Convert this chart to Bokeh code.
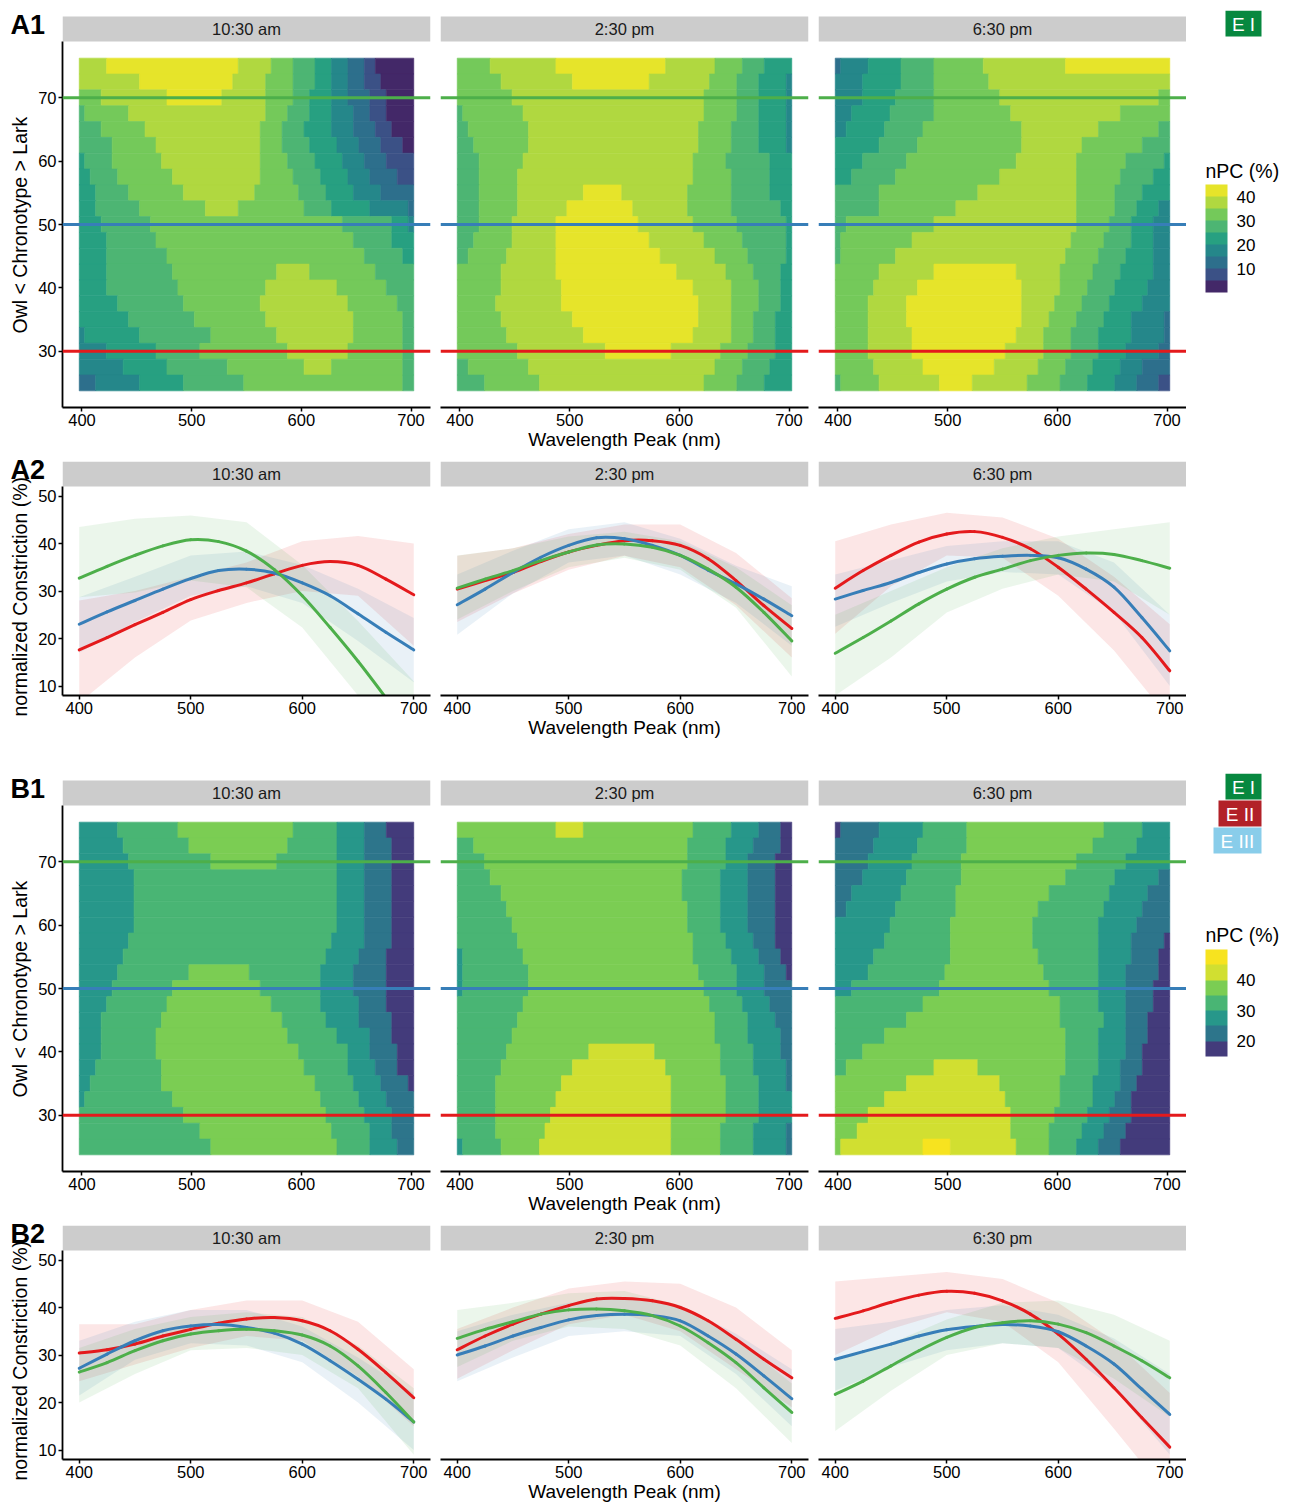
from bokeh.plotting import figure
from bokeh.models import (Range1d, FixedTicker, Span, ColumnDataSource,
                          LinearColorMapper, ColorBar, Title)
from bokeh.transform import transform
from bokeh.layouts import column, row
from bokeh.embed import file_html
from bokeh.resources import INLINE
from bokeh.core.properties import value

FONT = "Liberation Sans"

# ---------------------------------------------------------------- data
SESSIONS = ["10:30 am", "2:30 pm", "6:30 pm"]
WAVELENGTH_TICKS = [400, 500, 600, 700]
CHRONO_TICKS = [30, 40, 50, 60, 70]
CONSTRICTION_TICKS = [10, 20, 30, 40, 50]

# chronotype reference levels (owl / intermediate / lark) and their colours
CHRONO_LEVELS = [30, 50, 70]
CHRONO_COLORS = ["#E41A1C", "#377EB8", "#4DAF4A"]

# heat-map grid: wavelength cells every 5 nm from 400 to 700,
# chronotype rows every 2.5 from 75 (top) down to 25
CHRONO_ROWS = [75, 72.5, 70, 67.5, 65, 62.5, 60, 57.5, 55, 52.5, 50,
               47.5, 45, 42.5, 40, 37.5, 35, 32.5, 30, 27.5, 25]

# each token: "<lower edge of nPC bin>:<last wavelength of the run>"
A1_1030 = [
    "35:420 40:540 35:570 30:590 25:610 20:625 15:640 10:655 5:665 0:700",
    "35:450 40:535 35:565 30:590 25:610 20:625 15:640 10:655 5:670 0:700",
    "30:415 35:475 40:525 35:565 30:590 25:605 20:625 15:640 10:660 5:675 0:700",
    "25:400 30:440 35:565 30:585 25:605 20:625 15:645 10:660 5:675 0:700",
    "25:415 30:455 35:560 30:580 25:600 20:625 15:645 10:665 5:680 0:700",
    "25:425 30:465 35:560 30:580 25:605 20:630 15:650 10:670 5:690 0:700",
    "20:400 25:425 30:470 35:560 30:585 25:610 20:635 15:655 10:675 5:700",
    "20:405 25:430 30:480 35:560 30:590 25:615 20:640 15:660 10:685 5:700",
    "20:410 25:440 30:490 35:555 30:595 25:620 20:645 15:670 10:700",
    "20:410 25:450 30:510 35:540 30:600 25:625 20:660 15:695 10:700",
    "20:415 25:460 30:635 25:680 20:695 15:700",
    "20:420 25:465 30:645 25:680 20:700",
    "20:420 25:475 30:655 25:690 20:700",
    "20:420 25:480 30:575 35:605 30:665 25:700",
    "20:420 25:485 30:565 35:630 30:675 25:700",
    "20:430 25:490 30:560 35:640 30:685 25:700",
    "20:440 25:500 30:565 35:645 30:690 25:700",
    "15:400 20:450 25:515 30:575 35:645 30:690 25:700",
    "15:420 20:465 25:505 30:585 35:640 30:690 25:700",
    "15:435 20:475 25:530 30:600 35:625 30:690 25:700",
    "10:410 15:450 20:490 25:545 30:690 25:700",
]
A1_1430 = [
    "30:425 35:485 40:585 35:630 30:655 25:675 20:700",
    "30:435 35:500 40:570 35:625 30:650 25:670 20:695 15:700",
    "30:445 35:620 30:650 25:670 20:695 15:700",
    "25:400 30:455 35:620 30:650 25:670 20:695 15:700",
    "25:405 30:460 35:615 30:645 25:670 20:695 15:700",
    "25:410 30:460 35:615 30:645 25:670 20:695 15:700",
    "25:415 30:455 35:610 30:640 25:680 20:700",
    "25:415 30:450 35:610 30:645 25:680 20:700",
    "25:415 30:450 35:510 40:545 35:605 30:645 25:680 20:700",
    "25:415 30:450 35:495 40:555 35:605 30:645 25:690 20:700",
    "25:415 30:445 35:485 40:560 35:610 30:650 25:695 20:700",
    "25:410 30:445 35:485 40:570 35:620 30:655 25:695 20:700",
    "25:405 30:440 35:485 40:580 35:630 30:660 25:695 20:700",
    "30:435 35:485 40:595 35:640 30:665 25:690 20:700",
    "30:435 35:490 40:610 35:645 30:670 25:690 20:700",
    "30:430 35:490 40:615 35:645 30:670 25:690 20:700",
    "30:435 35:500 40:615 35:645 30:665 25:685 20:700",
    "30:440 35:510 40:610 35:645 30:665 25:685 20:700",
    "30:450 35:530 40:590 35:635 30:660 25:685 20:700",
    "25:405 30:460 35:630 30:655 25:680 20:700",
    "25:420 30:470 35:620 30:650 25:675 20:700",
]
A1_1830 = [
    "10:400 15:425 20:455 25:485 30:530 35:605 40:700",
    "15:420 20:455 25:485 30:535 35:700",
    "15:420 20:450 25:485 30:545 35:690 30:700",
    "15:410 20:445 25:485 30:555 35:655 30:700",
    "15:405 20:440 25:475 30:565 35:635 30:690 25:700",
    "20:435 25:470 30:565 35:620 30:675 25:700",
    "20:420 25:460 30:560 35:615 30:660 25:695 20:700",
    "20:410 25:450 30:545 35:615 30:655 25:685 20:700",
    "25:435 30:525 35:615 30:650 25:675 20:700",
    "25:435 30:505 35:615 30:650 25:670 20:690 15:700",
    "25:405 30:485 35:615 30:645 25:665 20:685 15:700",
    "25:400 30:465 35:610 30:640 25:665 20:685 15:700",
    "25:400 30:450 35:605 30:635 25:660 20:685 15:700",
    "30:435 35:485 40:560 35:600 30:630 25:655 20:685 15:700",
    "30:430 35:470 40:565 35:600 30:625 25:650 20:680 15:700",
    "30:425 35:460 40:565 35:595 30:620 25:645 20:675 15:700",
    "30:425 35:460 40:565 35:590 30:615 25:640 20:665 15:695 10:700",
    "30:425 35:465 40:560 35:585 30:610 25:635 20:665 15:695 10:700",
    "30:425 35:465 40:550 35:585 30:610 25:635 20:660 15:690 10:700",
    "30:430 35:475 40:540 35:580 30:605 25:630 20:655 15:675 10:700",
    "25:400 30:435 35:490 40:520 35:570 30:600 25:625 20:650 15:670 10:690 5:700",
]
B1_1030 = [
    "25:430 30:485 35:590 30:630 25:655 20:675 15:700",
    "25:435 30:495 35:585 30:630 25:655 20:680 15:700",
    "25:440 30:515 35:575 30:630 25:655 20:680 15:700",
    "25:445 30:630 25:655 20:680 15:700",
    "25:445 30:630 25:655 20:680 15:700",
    "25:445 30:630 25:655 20:680 15:700",
    "25:445 30:630 25:655 20:680 15:700",
    "25:440 30:625 25:655 20:680 15:700",
    "25:435 30:620 25:650 20:675 15:700",
    "25:430 30:495 35:550 30:615 25:645 20:675 15:700",
    "25:425 30:480 35:560 30:615 25:645 20:675 15:700",
    "25:420 30:475 35:570 30:615 25:650 20:675 15:700",
    "25:415 30:470 35:580 30:620 25:650 20:680 15:700",
    "25:415 30:465 35:585 30:630 25:660 20:680 15:700",
    "25:415 30:465 35:595 30:640 25:660 20:685 15:700",
    "25:410 30:470 35:600 30:640 25:665 20:685 15:700",
    "25:405 30:470 35:610 30:645 25:670 20:695 15:700",
    "25:400 30:480 35:615 30:650 25:675 20:700",
    "30:490 35:620 30:655 25:680 20:700",
    "30:505 35:625 30:660 25:680 20:700",
    "30:515 35:630 30:660 25:685 20:700",
]
B1_1430 = [
    "35:485 40:510 35:610 30:645 25:670 20:690 15:700",
    "30:410 35:605 30:640 25:665 20:690 15:700",
    "30:420 35:605 30:640 25:660 20:685 15:700",
    "30:425 35:600 30:635 25:660 20:685 15:700",
    "30:435 35:600 30:635 25:660 20:685 15:700",
    "30:440 35:605 30:635 25:660 20:685 15:700",
    "30:445 35:605 30:635 25:660 20:685 15:700",
    "30:450 35:610 30:640 25:665 20:685 15:700",
    "25:400 30:455 35:610 30:645 25:670 20:690 15:700",
    "25:400 30:460 35:615 30:650 25:675 20:695 15:700",
    "25:400 30:460 35:620 30:650 25:675 20:700",
    "30:455 35:625 30:655 25:680 20:700",
    "30:450 35:630 30:660 25:685 20:700",
    "30:445 35:630 30:660 25:690 20:700",
    "30:440 35:515 40:575 35:635 30:665 25:690 20:700",
    "30:435 35:500 40:585 35:635 30:665 25:695 20:700",
    "30:430 35:490 40:590 35:640 30:670 25:695 20:700",
    "30:430 35:485 40:590 35:640 30:670 25:700",
    "30:430 35:480 40:590 35:640 30:670 25:700",
    "30:430 35:475 40:590 35:635 30:665 25:695 20:700",
    "25:400 30:435 35:470 40:590 35:635 30:665 25:695 20:700",
]
B1_1830 = [
    "15:400 20:435 25:475 30:515 35:640 30:675 25:700",
    "20:430 25:470 30:515 35:630 30:670 25:700",
    "20:425 25:465 30:510 35:615 30:660 25:700",
    "20:420 25:460 30:510 35:605 30:650 25:690 20:700",
    "20:410 25:455 30:505 35:590 30:645 25:680 20:700",
    "20:405 25:450 30:505 35:580 30:640 25:675 20:700",
    "25:445 30:500 35:575 30:635 25:670 20:700",
    "25:440 30:500 35:575 30:635 25:665 20:695 15:700",
    "25:430 30:500 35:580 30:635 25:665 20:690 15:700",
    "25:425 30:495 35:585 30:635 25:660 20:690 15:700",
    "25:410 30:490 35:590 30:635 25:660 20:685 15:700",
    "30:475 35:600 30:635 25:660 20:685 15:700",
    "30:460 35:600 30:640 25:660 20:680 15:700",
    "30:440 35:605 30:635 25:660 20:680 15:700",
    "30:420 35:605 30:635 25:660 20:675 15:700",
    "30:405 35:485 40:525 35:605 30:635 25:655 20:675 15:700",
    "35:460 40:545 35:600 30:630 25:655 20:670 15:700",
    "35:440 40:550 35:600 30:630 25:650 20:665 15:700",
    "35:425 40:555 35:595 30:625 25:645 20:665 15:700",
    "35:415 40:555 35:590 30:620 25:640 20:660 15:700",
    "35:400 40:475 45:500 40:560 35:590 30:615 25:635 20:655 15:700",
]

# binned nPC colour scales (5 % bins)
NPC_PALETTE_A = ["#432868", "#3B5186", "#2D6F8C", "#25878A", "#27A081",
                 "#4DB573", "#74C95A", "#B0D840", "#E6E42A"]       # 0 ... 45
NPC_TICKS_A = [10, 20, 30, 40]
NPC_PALETTE_B = ["#433B7B", "#2D758B", "#27978A", "#49B574", "#7BCD53",
                 "#D1DF31", "#F7E31F"]                              # 15 ... 50
NPC_TICKS_B = [20, 30, 40]

# fitted constriction curves for chronotype 30 / 50 / 70
CURVE_NM = [400, 425, 450, 475, 500, 525, 550, 575, 600, 625, 650, 675, 700]
BAND_NM = [400, 450, 500, 550, 600, 650, 700]

A2_1030_CH30 = [17.6, 20.2, 22.9, 25.5, 28.2, 30.1, 31.7, 33.6, 35.4, 36.2, 35.4, 32.5, 29.2]
A2_1030_CH50 = [23.0, 25.6, 28.0, 30.4, 32.6, 34.3, 34.6, 33.8, 31.7, 29.0, 25.2, 21.3, 17.6]
A2_1030_CH70 = [32.7, 35.2, 37.5, 39.5, 40.8, 40.4, 38.4, 34.5, 29.0, 22.3, 15.2, 7.5, -0.5]
A2_1030_CH30_LO = [6.5, 16.0, 23.8, 27.5, 30.0, 29.0, 18.5]
A2_1030_CH30_HI = [28.0, 30.0, 33.0, 36.0, 40.5, 41.6, 40.0]
A2_1030_CH50_LO = [17.0, 23.5, 29.0, 31.0, 27.5, 19.5, 10.8]
A2_1030_CH50_HI = [28.7, 33.0, 37.5, 38.3, 35.5, 30.5, 24.3]
A2_1030_CH70_LO = [28.7, 29.7, 32.2, 30.8, 22.3, 8.0, -8.0]
A2_1030_CH70_HI = [43.5, 45.2, 45.9, 44.5, 35.5, 23.7, 11.0]

A2_1430_CH30 = [30.4, 32.2, 33.9, 36.2, 38.2, 39.6, 40.6, 40.6, 39.6, 36.8, 32.2, 26.9, 22.1]
A2_1430_CH50 = [27.1, 30.4, 33.9, 37.1, 39.6, 41.2, 41.0, 39.6, 37.5, 34.4, 31.5, 28.3, 24.8]
A2_1430_CH70 = [30.6, 32.5, 34.3, 36.4, 38.2, 39.7, 39.9, 39.2, 37.5, 34.6, 30.8, 25.5, 19.5]
A2_1430_CH30_LO = [23.5, 29.5, 34.5, 37.4, 35.0, 27.0, 16.0]
A2_1430_CH30_HI = [37.4, 39.0, 42.0, 44.0, 44.0, 38.0, 28.5]
A2_1430_CH50_LO = [20.8, 29.5, 36.0, 37.5, 33.5, 27.5, 18.5]
A2_1430_CH50_HI = [33.5, 38.5, 43.0, 44.5, 41.0, 35.3, 31.0]
A2_1430_CH70_LO = [24.0, 30.0, 35.0, 37.0, 34.5, 26.5, 12.0]
A2_1430_CH70_HI = [37.5, 39.0, 41.5, 42.5, 40.5, 35.0, 27.0]

A2_1830_CH30 = [30.6, 34.3, 37.5, 40.3, 42.0, 42.5, 41.3, 38.9, 35.0, 30.4, 25.5, 20.2, 13.2]
A2_1830_CH50 = [28.3, 30.1, 31.8, 33.9, 35.7, 36.8, 37.3, 37.5, 37.0, 34.6, 30.8, 24.4, 17.4]
A2_1830_CH70 = [16.9, 20.2, 23.7, 27.3, 30.4, 32.9, 34.6, 36.4, 37.5, 38.0, 37.7, 36.4, 34.8]
A2_1830_CH30_LO = [21.0, 31.0, 37.5, 37.0, 29.0, 17.5, 3.0]
A2_1830_CH30_HI = [40.5, 44.0, 46.5, 45.5, 41.0, 33.0, 23.0]
A2_1830_CH50_LO = [22.5, 27.5, 32.0, 34.0, 33.5, 25.5, 10.0]
A2_1830_CH50_HI = [33.5, 36.5, 39.5, 40.5, 40.5, 36.0, 25.0]
A2_1830_CH70_LO = [8.0, 16.0, 25.5, 30.5, 33.5, 32.0, 25.0]
A2_1830_CH70_HI = [25.0, 30.0, 35.0, 39.0, 41.5, 43.0, 44.5]

B2_1030_CH30 = [30.4, 31.1, 32.3, 34.0, 35.4, 36.7, 37.6, 37.9, 37.2, 35.1, 31.2, 26.3, 21.0]
B2_1030_CH50 = [27.2, 30.2, 33.0, 35.1, 36.1, 36.4, 35.8, 34.6, 32.3, 28.8, 24.9, 20.7, 15.9]
B2_1030_CH70 = [26.4, 28.4, 30.9, 33.0, 34.4, 35.1, 35.4, 35.1, 34.2, 31.9, 27.7, 22.1, 15.9]
B2_1030_CH30_LO = [24.5, 28.0, 31.5, 34.0, 33.0, 25.5, 15.0]
B2_1030_CH30_HI = [36.5, 36.5, 39.5, 41.5, 41.5, 37.0, 27.0]
B2_1030_CH50_LO = [21.5, 29.0, 32.5, 32.0, 28.5, 20.0, 10.0]
B2_1030_CH50_HI = [33.0, 37.0, 39.5, 39.5, 36.0, 29.5, 22.0]
B2_1030_CH70_LO = [20.0, 26.0, 31.0, 31.5, 30.0, 23.0, 9.0]
B2_1030_CH70_HI = [31.5, 35.5, 38.0, 39.0, 38.0, 32.0, 23.0]

B2_1430_CH30 = [31.1, 34.0, 36.5, 38.6, 40.4, 41.8, 41.9, 41.4, 40.0, 37.2, 33.3, 29.1, 25.2]
B2_1430_CH50 = [30.0, 31.9, 34.0, 35.8, 37.4, 38.3, 38.6, 38.3, 37.2, 34.0, 30.2, 25.6, 20.8]
B2_1430_CH70 = [33.5, 35.4, 37.0, 38.6, 39.5, 39.7, 39.3, 38.3, 36.1, 32.6, 28.4, 23.1, 17.9]
B2_1430_CH30_LO = [25.0, 31.0, 36.5, 38.5, 35.0, 27.0, 19.0]
B2_1430_CH30_HI = [35.5, 40.0, 44.0, 45.5, 45.0, 40.0, 31.0]
B2_1430_CH50_LO = [24.5, 29.5, 34.0, 35.0, 34.0, 26.0, 15.0]
B2_1430_CH50_HI = [35.0, 38.5, 41.0, 42.0, 40.5, 34.5, 27.0]
B2_1430_CH70_LO = [27.5, 33.0, 36.0, 35.5, 32.0, 23.0, 11.5]
B2_1430_CH70_HI = [39.5, 41.0, 43.0, 43.5, 40.5, 33.5, 24.0]

B2_1830_CH30 = [37.7, 39.3, 41.1, 42.6, 43.4, 43.0, 41.4, 38.6, 34.4, 29.1, 23.1, 16.8, 10.6]
B2_1830_CH50 = [29.1, 30.7, 32.3, 34.0, 35.3, 36.0, 36.4, 36.1, 34.9, 31.9, 28.1, 22.8, 17.5]
B2_1830_CH70 = [21.7, 24.5, 27.7, 30.9, 33.7, 35.8, 36.8, 37.2, 36.5, 34.7, 31.9, 28.8, 25.2]
B2_1830_CH30_LO = [30.0, 35.5, 39.0, 37.0, 28.5, 14.5, 0.0]
B2_1830_CH30_HI = [45.5, 46.5, 47.5, 46.0, 41.0, 33.0, 22.0]
B2_1830_CH50_LO = [22.5, 27.5, 31.0, 32.5, 31.5, 23.0, 9.0]
B2_1830_CH50_HI = [35.5, 37.0, 39.5, 40.5, 38.5, 33.5, 26.0]
B2_1830_CH70_LO = [14.0, 22.5, 30.0, 32.5, 31.5, 25.0, 17.0]
B2_1830_CH70_HI = [29.0, 32.5, 37.5, 41.0, 41.5, 38.5, 33.0]

# experiment badges
BADGES_A = [("E I", "#07883F")]
BADGES_B = [("E I", "#07883F"), ("E II", "#B22128"), ("E III", "#89CDEA")]

# ---------------------------------------------------------------- geometry
FRAME_W = 368
SIDE_BORDERS = [(62, 5), (5, 5), (5, 0)]
STRIP_PX = 25
HEAT_PX = 366
CURVE_PX = 209
LEGEND_W = 110

HEAT_X = (382.25, 717.75)
HEAT_Y = (21.125, 78.875)
CURVE_X = (385.0, 715.0)
CURVE_Y = (8.0, 52.0)

TICK_FONT = "16.5px"
TITLE_FONT = "19.5px"
XTITLE_FONT = "19px"
TAG_FONT = "27px"
TAG_DROP = 23          # panel tag: text bottom sits this far below the strip top


def style_axis(ax, ticks):
    ax.ticker = FixedTicker(ticks=ticks)
    ax.axis_line_color = "black"
    ax.axis_line_width = 1.8
    ax.major_tick_line_color = "black"
    ax.major_tick_line_width = 1.5
    ax.major_tick_out = 4
    ax.major_tick_in = 0
    ax.minor_tick_line_color = None
    ax.major_label_text_font = FONT
    ax.major_label_text_font_size = TICK_FONT
    ax.major_label_text_color = "black"
    ax.major_label_standoff = 2
    ax.axis_label_text_font = FONT
    ax.axis_label_text_font_size = XTITLE_FONT
    ax.axis_label_text_font_style = "normal"
    ax.axis_label_text_color = "black"
    ax.axis_label_standoff = 0


def panel(col, xr, yr, panel_px, top, gap, bottom, ylabel, ylabel_offset,
          tag, session, yticks):
    """One facet: data area, grey strip above it and `gap` blank pixels on top."""
    units_per_px = (yr[1] - yr[0]) / panel_px
    strip_top = yr[1] + STRIP_PX * units_per_px
    y_end = strip_top + gap * units_per_px
    left, right = SIDE_BORDERS[col]
    p = figure(frame_width=FRAME_W, frame_height=panel_px + STRIP_PX + gap,
               x_range=Range1d(*xr), y_range=Range1d(yr[0], y_end),
               min_border_left=left, min_border_right=right,
               min_border_top=top, min_border_bottom=bottom,
               output_backend="svg", toolbar_location=None)
    p.outline_line_color = None
    p.grid.visible = False
    p.background_fill_color = "white"
    p.border_fill_color = "white"

    # facet strip
    p.quad(left=[xr[0]], right=[xr[1]], bottom=[yr[1]], top=[strip_top],
           fill_color="#CCCCCC", line_color=None)
    p.text(x=[(xr[0] + xr[1]) / 2], y=[(yr[1] + strip_top) / 2], text=[session],
           text_align="center", text_baseline="middle",
           text_font=value(FONT), text_font_size=TICK_FONT, text_color="#1A1A1A")

    style_axis(p.xaxis[0], WAVELENGTH_TICKS)
    if col == 1:
        p.xaxis[0].axis_label = "Wavelength Peak (nm)"
    if col == 0:
        style_axis(p.yaxis[0], yticks)
        p.yaxis[0].bounds = yr
        p.add_layout(Title(text=ylabel, align="left", offset=ylabel_offset,
                           standoff=10, text_font=FONT, text_font_size=TITLE_FONT,
                           text_font_style="normal", text_color="black"), "left")
        # panel tag, pulled down beside the strip
        p.add_layout(Title(text=tag, align="left", offset=10 - left,
                           standoff=-2 * (gap + TAG_DROP), vertical_align="bottom",
                           text_font=FONT, text_font_size=TAG_FONT,
                           text_font_style="bold", text_color="black"), "above")
    else:
        p.yaxis.visible = False
    return p


def heat_cells(rows):
    left, right, bottom, top, npc = [], [], [], [], []
    for yc, line in zip(CHRONO_ROWS, rows):
        start = 400
        for tok in line.split():
            lo, last = tok.split(":")
            lo, last = float(lo), float(last)
            left.append(start - 2.5)
            right.append(last + 2.5)
            bottom.append(yc - 1.25)
            top.append(yc + 1.25)
            npc.append(lo + 2.5)
            start = last + 5
    return ColumnDataSource(dict(left=left, right=right, bottom=bottom, top=top, npc=npc))


def heat_row(grids, mapper, top, gap, bottom, tag):
    figs = []
    for col, (grid, session) in enumerate(zip(grids, SESSIONS)):
        p = panel(col, HEAT_X, HEAT_Y, HEAT_PX, top, gap, bottom,
                  "Owl < Chronotype > Lark", 74, tag, session, CHRONO_TICKS)
        colour = transform("npc", mapper)
        p.quad(left="left", right="right", bottom="bottom", top="top",
               source=heat_cells(grid), fill_color=colour,
               line_color=colour, line_width=0.6)
        for lvl, c in zip(CHRONO_LEVELS, CHRONO_COLORS):
            p.add_layout(Span(location=lvl, dimension="width",
                              line_color=c, line_width=3))
        figs.append(p)
    return figs


def smooth_line(p, xs, ys, color):
    """Draw a curve through the read points as cubic Bezier pieces."""
    n = len(xs)
    x0, y0, x1, y1, cx0, cy0, cx1, cy1 = ([] for _ in range(8))
    for i in range(n - 1):
        a = max(i - 1, 0)
        d = min(i + 2, n - 1)
        x0.append(xs[i]); y0.append(ys[i])
        x1.append(xs[i + 1]); y1.append(ys[i + 1])
        cx0.append(xs[i] + (xs[i + 1] - xs[a]) / 6)
        cy0.append(ys[i] + (ys[i + 1] - ys[a]) / 6)
        cx1.append(xs[i + 1] - (xs[d] - xs[i]) / 6)
        cy1.append(ys[i + 1] - (ys[d] - ys[i]) / 6)
    p.bezier(x0=x0, y0=y0, x1=x1, y1=y1, cx0=cx0, cy0=cy0, cx1=cx1, cy1=cy1,
             line_color=color, line_width=3, line_cap="round")


def curve_row(panels, top, gap, bottom, tag):
    figs = []
    for col, (series, session) in enumerate(zip(panels, SESSIONS)):
        p = panel(col, CURVE_X, CURVE_Y, CURVE_PX, top, gap, bottom,
                  "normalized Constriction (%)", -21, tag, session, CONSTRICTION_TICKS)
        for (_, lo, hi), c in zip(series, CHRONO_COLORS):
            p.varea(x=BAND_NM, y1=lo, y2=hi, fill_color=c, fill_alpha=0.11)
        for (mid, _, _), c in zip(series, CHRONO_COLORS):
            smooth_line(p, CURVE_NM, mid, c)
        figs.append(p)
    return figs


def legend_column(top, gap, bottom, badges, mapper, ticks, bar_h, title_y):
    """Right-hand legend; pixel coordinates measured down from the frame top."""
    h = gap + STRIP_PX + HEAT_PX
    p = figure(frame_width=LEGEND_W, frame_height=h,
               x_range=Range1d(0, LEGEND_W), y_range=Range1d(h, 0),
               min_border_left=0, min_border_right=0,
               min_border_top=top, min_border_bottom=bottom,
               output_backend="svg", toolbar_location=None)
    p.outline_line_color = None
    p.grid.visible = False
    p.axis.visible = False
    p.background_fill_color = "white"
    p.border_fill_color = "white"

    widths = {"E I": 36, "E II": 43, "E III": 48}
    y = 0
    for name, c in badges:
        w = widths[name]
        p.quad(left=[75 - w], right=[75], top=[y], bottom=[y + 26],
               fill_color=c, line_color=None)
        p.text(x=[75 - w / 2], y=[y + 13.5], text=[name], text_align="center",
               text_baseline="middle", text_font=value(FONT),
               text_font_size="19px", text_color="white")
        y += 27

    p.text(x=[19], y=[title_y], text=["nPC (%)"], text_align="left",
           text_baseline="middle", text_font=value(FONT),
           text_font_size=TITLE_FONT, text_color="black")

    cb = ColorBar(color_mapper=mapper, ticker=FixedTicker(ticks=ticks),
                  location=(19, 115), width=22, height=bar_h,
                  padding=0, margin=0,
                  major_label_text_font=FONT, major_label_text_font_size="17px",
                  major_label_text_color="black", label_standoff=9,
                  major_tick_line_color=None, minor_tick_line_color=None,
                  bar_line_color=None, border_line_color=None,
                  background_fill_alpha=0)
    p.add_layout(cb)
    return p


mapper_a = LinearColorMapper(palette=NPC_PALETTE_A, low=0, high=45)
mapper_b = LinearColorMapper(palette=NPC_PALETTE_B, low=15, high=50)

# (top border, blank above strip, bottom border) per row
A1_ROW = (10, 6, 46)
A2_ROW = (8, 0, 50)
B1_ROW = (28, 7, 46)
B2_ROW = (8, 0, 46)

row_a1 = heat_row([A1_1030, A1_1430, A1_1830], mapper_a, *A1_ROW, "A1")
row_a1.append(legend_column(*A1_ROW, BADGES_A, mapper_a, NPC_TICKS_A, 108, 160))

row_a2 = curve_row([
    [(A2_1030_CH30, A2_1030_CH30_LO, A2_1030_CH30_HI),
     (A2_1030_CH50, A2_1030_CH50_LO, A2_1030_CH50_HI),
     (A2_1030_CH70, A2_1030_CH70_LO, A2_1030_CH70_HI)],
    [(A2_1430_CH30, A2_1430_CH30_LO, A2_1430_CH30_HI),
     (A2_1430_CH50, A2_1430_CH50_LO, A2_1430_CH50_HI),
     (A2_1430_CH70, A2_1430_CH70_LO, A2_1430_CH70_HI)],
    [(A2_1830_CH30, A2_1830_CH30_LO, A2_1830_CH30_HI),
     (A2_1830_CH50, A2_1830_CH50_LO, A2_1830_CH50_HI),
     (A2_1830_CH70, A2_1830_CH70_LO, A2_1830_CH70_HI)],
], *A2_ROW, "A2")

row_b1 = heat_row([B1_1030, B1_1430, B1_1830], mapper_b, *B1_ROW, "B1")
row_b1.append(legend_column(*B1_ROW, BADGES_B, mapper_b, NPC_TICKS_B, 107, 161))

row_b2 = curve_row([
    [(B2_1030_CH30, B2_1030_CH30_LO, B2_1030_CH30_HI),
     (B2_1030_CH50, B2_1030_CH50_LO, B2_1030_CH50_HI),
     (B2_1030_CH70, B2_1030_CH70_LO, B2_1030_CH70_HI)],
    [(B2_1430_CH30, B2_1430_CH30_LO, B2_1430_CH30_HI),
     (B2_1430_CH50, B2_1430_CH50_LO, B2_1430_CH50_HI),
     (B2_1430_CH70, B2_1430_CH70_LO, B2_1430_CH70_HI)],
    [(B2_1830_CH30, B2_1830_CH30_LO, B2_1830_CH30_HI),
     (B2_1830_CH50, B2_1830_CH50_LO, B2_1830_CH50_HI),
     (B2_1830_CH70, B2_1830_CH70_LO, B2_1830_CH70_HI)],
], *B2_ROW, "B2")

layout = column(row(*row_a1), row(*row_a2), row(*row_b1), row(*row_b2))

with open("out.html", "w") as fh:
    fh.write(file_html(layout, INLINE))
